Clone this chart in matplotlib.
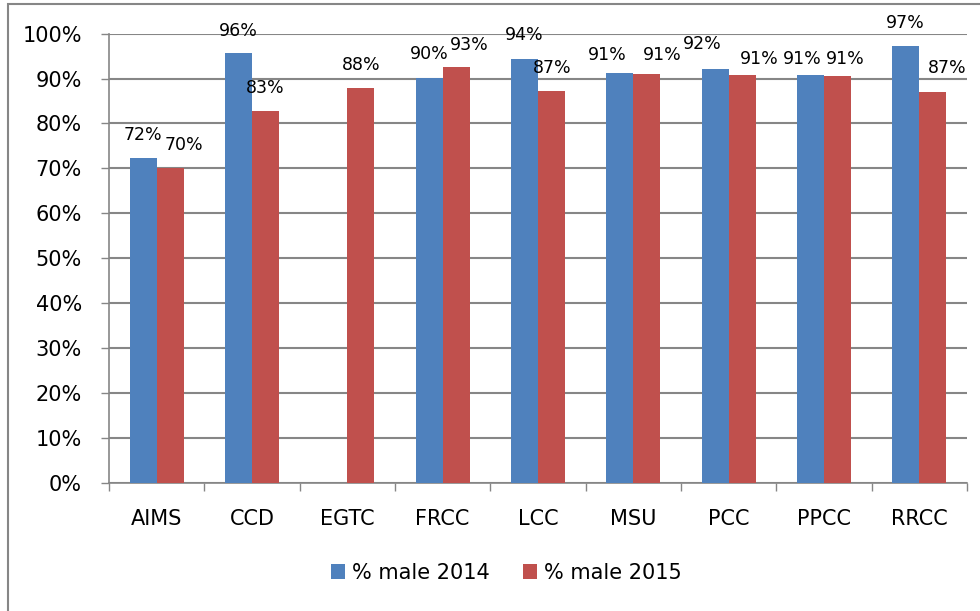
import numpy as np
import matplotlib
matplotlib.use('Agg')
import matplotlib.pyplot as plt
from matplotlib.patches import Rectangle
from matplotlib.ticker import FixedLocator, PercentFormatter

colleges = ['AIMS', 'CCD', 'EGTC', 'FRCC', 'LCC', 'MSU', 'PCC', 'PPCC', 'RRCC']
male_2014 = [72.3, 95.8, np.nan, 90.2, 94.3, 91.3, 92.1, 90.8, 97.3]
male_2015 = [70.0, 82.7, 87.8, 92.6, 87.2, 91.1, 90.8, 90.5, 87.0]
labels_2014 = ['72%', '96%', '', '90%', '94%', '91%', '92%', '91%', '97%']
labels_2015 = ['70%', '83%', '88%', '93%', '87%', '91%', '91%', '91%', '87%']

# label nudges in pixels (dx, height above bar top), like the hand-placed Excel labels
nudge_2014 = [(0, 23), (0, 22), (0, 0), (0, 24), (0, 24), (-13, 18), (-13, 25), (-8, 16), (-1, 23)]
nudge_2015 = [(14, 23), (0, 23), (0, 23), (13, 22), (1, 23), (15, 19), (17, 16), (8, 17), (14, 24)]

blue = '#4F81BD'
red = '#C0504D'
grid_gray = '#868686'
plt.rcParams['font.family'] = ['DejaVu Sans']

fig = plt.figure(figsize=(9.8, 6.11), dpi=100)
ax = fig.add_axes([0.1112, 0.2103, 0.8755, 0.7345])

x = np.arange(len(colleges))
w = 0.283
b1 = ax.bar(x - w / 2, male_2014, w, color=blue, label='% male 2014', zorder=3)
b2 = ax.bar(x + w / 2, male_2015, w, color=red, label='% male 2015', zorder=3)

px = 0.72  # points per pixel at 100 dpi
for bars, vals, labs, nudges in [(b1, male_2014, labels_2014, nudge_2014),
                                 (b2, male_2015, labels_2015, nudge_2015)]:
    for bar, v, lab, (dx, dy) in zip(bars, vals, labs, nudges):
        if np.isnan(v):
            continue
        ax.annotate(lab, (bar.get_x() + bar.get_width() / 2, v),
                    xytext=(dx * px, dy * px), textcoords='offset points',
                    ha='center', va='center', fontsize=12.5, color='black',
                    annotation_clip=False, zorder=5)

ax.set_xlim(-0.5, len(colleges) - 0.5)
ax.set_ylim(0, 100)
ax.set_yticks(np.arange(0, 101, 10))
ax.yaxis.set_major_formatter(PercentFormatter(decimals=0))
ax.yaxis.grid(True, color=grid_gray, linewidth=1.5, zorder=0)
ax.set_axisbelow(True)

ax.set_xticks(x)
ax.set_xticklabels(colleges)
ax.xaxis.set_minor_locator(FixedLocator(np.arange(-0.5, len(colleges), 1.0)))
ax.tick_params(axis='x', which='major', length=0, pad=19, labelsize=15)
ax.tick_params(axis='x', which='minor', length=6, width=1, color=grid_gray, direction='out')
ax.tick_params(axis='y', length=6, width=1, color=grid_gray, pad=13.5, labelsize=15)

for s in ['top', 'right']:
    ax.spines[s].set_visible(False)
for s in ['left', 'bottom']:
    ax.spines[s].set_color(grid_gray)
    ax.spines[s].set_linewidth(1.2)

leg = fig.legend(handles=[b1, b2], loc='center', bbox_to_anchor=(506 / 980, 1 - 573 / 611),
                 ncol=2, frameon=False, fontsize=15, handlelength=0.7, handleheight=0.7,
                 handletextpad=0.3, columnspacing=1.6)

# chart-area border (cut by the page crop on the right and bottom)
fig.patches.append(Rectangle((8 / 980, -0.1), 1.2, 1 - 4 / 611 + 0.1,
                             transform=fig.transFigure, fill=False,
                             edgecolor=grid_gray, linewidth=1.5))

fig.savefig('out.png', dpi=100, facecolor='white')
